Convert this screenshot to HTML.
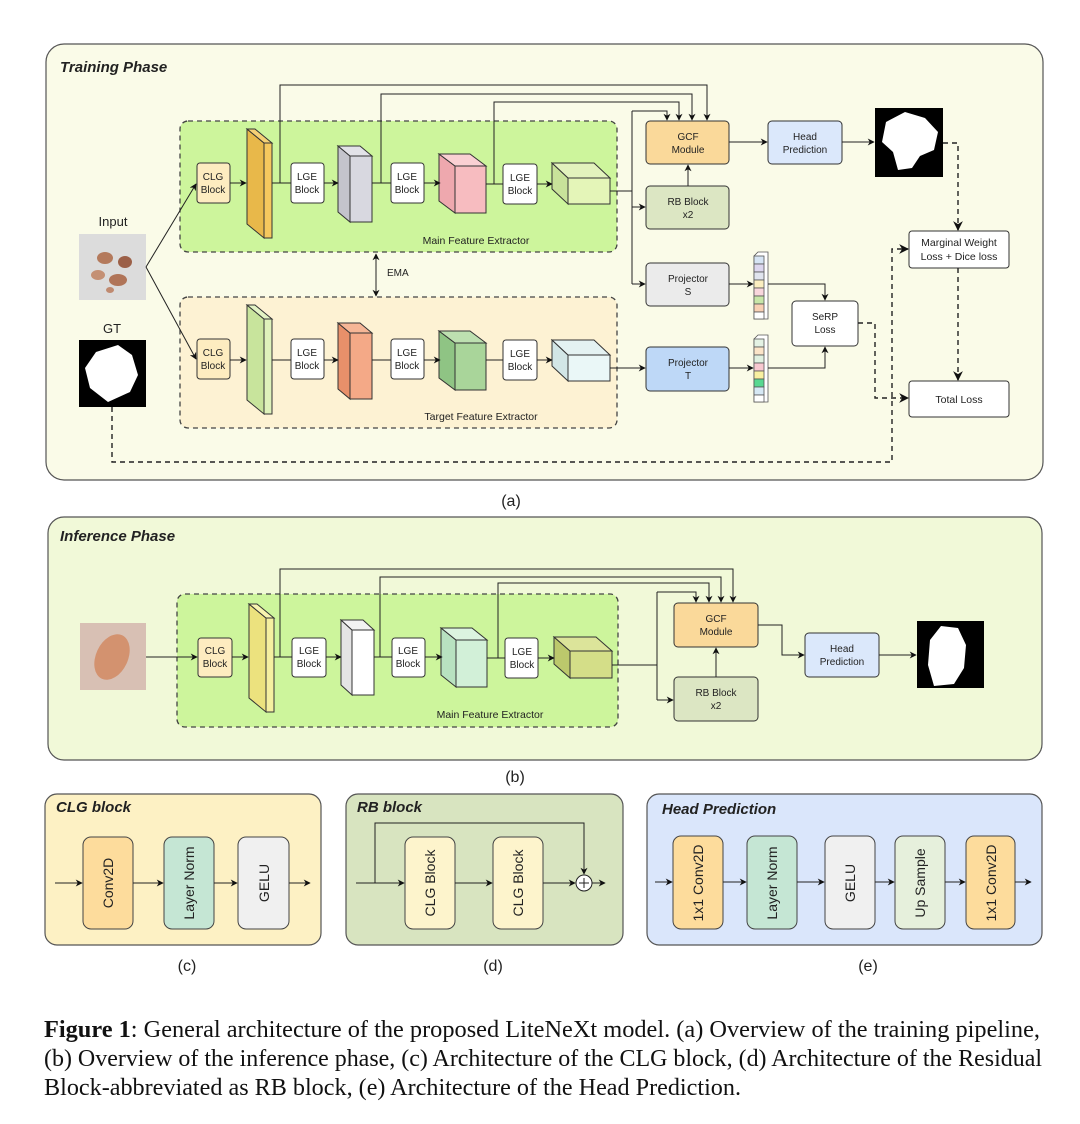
<!DOCTYPE html>
<html><head><meta charset="utf-8"><style>
html,body{margin:0;padding:0;background:#fff;}
svg{display:block;}
text{font-family:"Liberation Sans",sans-serif;fill:#222;}
.b{font-size:10px;text-anchor:middle;}
.t{font-size:15px;font-weight:bold;font-style:italic;}
.cap{font-family:"Liberation Serif",serif;font-size:24px;fill:#111;}
</style></head><body>
<svg width="1080" height="1124" viewBox="0 0 1080 1124" xmlns="http://www.w3.org/2000/svg">
<defs>
<marker id="a" viewBox="0 0 10 10" refX="9" refY="5" markerWidth="7" markerHeight="7" orient="auto-start-reverse"><path d="M0,0 L10,5 L0,10 L3,5 z" fill="#111"/></marker>
</defs>

<!-- PANEL A -->
<rect x="46" y="44" width="997" height="436" rx="18" fill="#fafbe8" stroke="#555" stroke-width="1.2"/>
<text x="60" y="72" class="t">Training Phase</text>
<rect x="180" y="121" width="437" height="131" rx="8" fill="#cdf59c" stroke="#444" stroke-width="1.3" stroke-dasharray="5,4"/>
<text x="476" y="244" font-size="10.5" text-anchor="middle">Main Feature Extractor</text>
<rect x="180" y="297" width="437" height="131" rx="8" fill="#fdf2d3" stroke="#444" stroke-width="1.3" stroke-dasharray="5,4"/>
<text x="481" y="420" font-size="10.5" text-anchor="middle">Target Feature Extractor</text>

<!-- input -->
<text x="113" y="226" font-size="13" text-anchor="middle">Input</text>
<rect x="79" y="234" width="67" height="66" fill="#dcdcdc"/>
<ellipse cx="105" cy="258" rx="8" ry="6" fill="#b47a5c"/><ellipse cx="125" cy="262" rx="7" ry="6" fill="#9c6048"/><ellipse cx="98" cy="275" rx="7" ry="5" fill="#c49074"/><ellipse cx="118" cy="280" rx="9" ry="6" fill="#b07458"/><ellipse cx="110" cy="290" rx="4" ry="3" fill="#c08a70"/>
<text x="112" y="333" font-size="13" text-anchor="middle">GT</text>
<rect x="79" y="340" width="67" height="67" fill="#000"/>
<path d="M96,352 L118,345 L132,355 L138,375 L130,392 L108,402 L90,388 L85,368 z" fill="#fff"/>

<line x1="146" y1="267" x2="196" y2="184" stroke="#222" marker-end="url(#a)"/>
<line x1="146" y1="267" x2="196" y2="359" stroke="#222" marker-end="url(#a)"/>

<!-- main row -->
<g stroke="#333" stroke-width="1">
<rect x="197" y="163" width="33" height="40" rx="3" fill="#fdecc0"/>
<polygon points="247,129 264,143 264,238 247,224" fill="#e8b84a"/><polygon points="247,129 255,129 272,143 264,143" fill="#f5d075"/><rect x="264" y="143" width="8" height="95" fill="#f5c85e"/>
<rect x="291" y="163" width="33" height="40" rx="3" fill="#fff"/>
<polygon points="338,146 350,156 350,222 338,212" fill="#c4c4cc"/><polygon points="338,146 360,146 372,156 350,156" fill="#e2e2e8"/><rect x="350" y="156" width="22" height="66" fill="#d8d8e0"/>
<rect x="391" y="163" width="33" height="40" rx="3" fill="#fff"/>
<polygon points="439,154 455,166 455,213 439,201" fill="#eea8ae"/><polygon points="439,154 470,154 486,166 455,166" fill="#fad0d3"/><rect x="455" y="166" width="31" height="47" fill="#f7bcc0"/>
<rect x="503" y="164" width="34" height="40" rx="3" fill="#fff"/>
<polygon points="552,163 568,178 568,204 552,189" fill="#c8e29a"/><polygon points="552,163 594,163 610,178 568,178" fill="#e2f2bd"/><rect x="568" y="178" width="42" height="26" fill="#e4f5b8"/>
</g>
<g class="b"><text x="213" y="180">CLG</text><text x="213" y="193">Block</text>
<text x="307" y="180">LGE</text><text x="307" y="193">Block</text>
<text x="407" y="180">LGE</text><text x="407" y="193">Block</text>
<text x="520" y="181">LGE</text><text x="520" y="194">Block</text></g>
<g stroke="#222" fill="none">
<line x1="230" y1="183" x2="246" y2="183" marker-end="url(#a)"/>
<line x1="272" y1="183" x2="291" y2="183"/>
<line x1="324" y1="183" x2="338" y2="183" marker-end="url(#a)"/>
<line x1="372" y1="183" x2="391" y2="183"/>
<line x1="424" y1="183" x2="440" y2="183" marker-end="url(#a)"/>
<line x1="486" y1="184" x2="503" y2="184"/>
<line x1="537" y1="184" x2="552" y2="184" marker-end="url(#a)"/>
<polyline points="280,183 280,85 707,85 707,120" marker-end="url(#a)"/>
<polyline points="381,183 381,94 692,94 692,120" marker-end="url(#a)"/>
<polyline points="494,184 494,102 679,102 679,120" marker-end="url(#a)"/>
<polyline points="610,191 632,191"/>
<polyline points="632,111 667,111 667,120" marker-end="url(#a)"/>
<line x1="632" y1="111" x2="632" y2="284"/>
<line x1="632" y1="207" x2="645" y2="207" marker-end="url(#a)"/>
<line x1="632" y1="284" x2="645" y2="284" marker-end="url(#a)"/>
<line x1="376" y1="254" x2="376" y2="296" marker-start="url(#a)" marker-end="url(#a)"/>
</g>
<text x="387" y="276" font-size="10">EMA</text>

<!-- target row -->
<g stroke="#333" stroke-width="1">
<rect x="197" y="339" width="33" height="40" rx="3" fill="#fdecc0"/>
<polygon points="247,305 264,319 264,414 247,400" fill="#c8e49c"/><polygon points="247,305 255,305 272,319 264,319" fill="#e2f3c4"/><rect x="264" y="319" width="8" height="95" fill="#dff2bb"/>
<rect x="291" y="339" width="33" height="40" rx="3" fill="#fff"/>
<polygon points="338,323 350,333 350,399 338,389" fill="#e8906a"/><polygon points="338,323 360,323 372,333 350,333" fill="#f6b696"/><rect x="350" y="333" width="22" height="66" fill="#f4a987"/>
<rect x="391" y="339" width="33" height="40" rx="3" fill="#fff"/>
<polygon points="439,331 455,343 455,390 439,378" fill="#8fc484"/><polygon points="439,331 470,331 486,343 455,343" fill="#bde0b0"/><rect x="455" y="343" width="31" height="47" fill="#a9d59a"/>
<rect x="503" y="340" width="34" height="40" rx="3" fill="#fff"/>
<polygon points="552,340 568,355 568,381 552,366" fill="#d2e6e6"/><polygon points="552,340 594,340 610,355 568,355" fill="#e4f2f2"/><rect x="568" y="355" width="42" height="26" fill="#eaf7f7"/>
</g>
<g class="b"><text x="213" y="356">CLG</text><text x="213" y="369">Block</text>
<text x="307" y="356">LGE</text><text x="307" y="369">Block</text>
<text x="407" y="356">LGE</text><text x="407" y="369">Block</text>
<text x="520" y="357">LGE</text><text x="520" y="370">Block</text></g>
<g stroke="#222" fill="none">
<line x1="230" y1="360" x2="246" y2="360" marker-end="url(#a)"/>
<line x1="272" y1="360" x2="291" y2="360"/>
<line x1="324" y1="360" x2="338" y2="360" marker-end="url(#a)"/>
<line x1="372" y1="360" x2="391" y2="360"/>
<line x1="424" y1="360" x2="440" y2="360" marker-end="url(#a)"/>
<line x1="486" y1="360" x2="503" y2="360"/>
<line x1="537" y1="360" x2="552" y2="360" marker-end="url(#a)"/>
<line x1="610" y1="368" x2="645" y2="368" marker-end="url(#a)"/>
</g>

<!-- right side of A -->
<g stroke="#333" stroke-width="1">
<rect x="646" y="121" width="83" height="43" rx="4" fill="#fad99a"/>
<rect x="768" y="121" width="74" height="43" rx="4" fill="#dbe8fb"/>
<rect x="646" y="186" width="83" height="43" rx="4" fill="#dce6c3"/>
<rect x="646" y="263" width="83" height="43" rx="4" fill="#ebebeb"/>
<rect x="646" y="347" width="83" height="44" rx="4" fill="#bed8f7"/>
<rect x="792" y="301" width="66" height="45" rx="4" fill="#fff"/>
<rect x="909" y="231" width="100" height="37" rx="3" fill="#fff"/>
<rect x="909" y="381" width="100" height="36" rx="3" fill="#fff"/>
</g>
<rect x="875" y="108" width="68" height="69" fill="#000"/>
<path d="M886,122 L905,112 L925,118 L938,132 L934,150 L920,156 L912,168 L898,170 L893,152 L882,142 z" fill="#fff"/>
<g class="b"><text x="688" y="140">GCF</text><text x="688" y="153">Module</text>
<text x="805" y="140">Head</text><text x="805" y="153">Prediction</text>
<text x="688" y="205">RB Block</text><text x="688" y="218">x2</text>
<text x="688" y="282">Projector</text><text x="688" y="295">S</text>
<text x="688" y="366">Projector</text><text x="688" y="379">T</text>
<text x="825" y="320">SeRP</text><text x="825" y="333">Loss</text>
<text x="959" y="246" font-size="10.5">Marginal Weight</text><text x="959" y="260" font-size="10.5">Loss + Dice loss</text>
<text x="959" y="403" font-size="10.5">Total Loss</text></g>
<g stroke="#555" stroke-width="0.8">
<polygon points="754,256 758,252 768,252 768,319 764,319 754,319" fill="#fff"/>
<rect x="754" y="256" width="10" height="8" fill="#d6e4f4"/><rect x="754" y="264" width="10" height="8" fill="#dcd6ee"/><rect x="754" y="272" width="10" height="8" fill="#e0e4ee"/><rect x="754" y="280" width="10" height="8" fill="#fbeec0"/><rect x="754" y="288" width="10" height="8" fill="#f8d6dc"/><rect x="754" y="296" width="10" height="8" fill="#c8e6a8"/><rect x="754" y="304" width="10" height="8" fill="#f8d0b4"/><rect x="754" y="312" width="10" height="7" fill="#fff"/>
<polygon points="754,339 758,335 768,335 768,402 764,402 754,402" fill="#fff"/>
<rect x="754" y="339" width="10" height="8" fill="#e4f2e4"/><rect x="754" y="347" width="10" height="8" fill="#fbe4c8"/><rect x="754" y="355" width="10" height="8" fill="#e0f0e0"/><rect x="754" y="363" width="10" height="8" fill="#f8c8d0"/><rect x="754" y="371" width="10" height="8" fill="#f8f0a0"/><rect x="754" y="379" width="10" height="8" fill="#58d890"/><rect x="754" y="387" width="10" height="8" fill="#d6e8f4"/><rect x="754" y="395" width="10" height="7" fill="#fff"/>
</g>
<g stroke="#222" fill="none">
<line x1="729" y1="142" x2="767" y2="142" marker-end="url(#a)"/>
<line x1="842" y1="142" x2="874" y2="142" marker-end="url(#a)"/>
<line x1="688" y1="186" x2="688" y2="165" marker-end="url(#a)"/>
<line x1="729" y1="284" x2="753" y2="284" marker-end="url(#a)"/>
<line x1="729" y1="368" x2="753" y2="368" marker-end="url(#a)"/>
<polyline points="768,284 825,284 825,300" marker-end="url(#a)"/>
<polyline points="768,368 825,368 825,347" marker-end="url(#a)"/>
</g>
<g stroke="#222" fill="none" stroke-width="1.4" stroke-dasharray="5,4">
<polyline points="943,143 958,143 958,230" marker-end="url(#a)"/>
<polyline points="958,268 958,380" marker-end="url(#a)"/>
<polyline points="858,323 875,323 875,398 908,398" marker-end="url(#a)"/>
<polyline points="112,407 112,462 892,462 892,249 908,249" marker-end="url(#a)"/>
</g>
<text x="511" y="506" font-size="16" text-anchor="middle">(a)</text>

<!-- PANEL B -->
<rect x="48" y="517" width="994" height="243" rx="16" fill="#f1f9d8" stroke="#555" stroke-width="1.2"/>
<text x="60" y="541" class="t">Inference Phase</text>
<rect x="177" y="594" width="441" height="133" rx="8" fill="#cdf59c" stroke="#444" stroke-width="1.3" stroke-dasharray="5,4"/>
<text x="490" y="718" font-size="10.5" text-anchor="middle">Main Feature Extractor</text>
<rect x="80" y="623" width="66" height="67" fill="#d8c0b4"/>
<ellipse cx="112" cy="657" rx="16" ry="24" fill="#d2865e" opacity="0.8" transform="rotate(25 112 657)"/>
<g stroke="#333" stroke-width="1">
<rect x="198" y="638" width="34" height="39" rx="3" fill="#fdecc0"/>
<polygon points="249,604 266,618 266,712 249,698" fill="#ece27e"/><polygon points="249,604 257,604 274,618 266,618" fill="#f8f4b0"/><rect x="266" y="618" width="8" height="94" fill="#f5f0a0"/>
<rect x="292" y="638" width="34" height="39" rx="3" fill="#fff"/>
<polygon points="341,620 352,630 352,695 341,685" fill="#e4e4e4"/><polygon points="341,620 363,620 374,630 352,630" fill="#f2f2f2"/><rect x="352" y="630" width="22" height="65" fill="#fff"/>
<rect x="392" y="638" width="33" height="39" rx="3" fill="#fff"/>
<polygon points="441,628 456,640 456,687 441,675" fill="#b8e2c0"/><polygon points="441,628 472,628 487,640 456,640" fill="#dcf4e0"/><rect x="456" y="640" width="31" height="47" fill="#d2f0d8"/>
<rect x="505" y="638" width="33" height="40" rx="3" fill="#fff"/>
<polygon points="554,637 570,651 570,678 554,664" fill="#bcc86c"/><polygon points="554,637 596,637 612,651 570,651" fill="#dce49a"/><rect x="570" y="651" width="42" height="27" fill="#d4de88"/>
<rect x="674" y="603" width="84" height="44" rx="4" fill="#fad99a"/>
<rect x="674" y="677" width="84" height="44" rx="4" fill="#dce6c3"/>
<rect x="805" y="633" width="74" height="44" rx="4" fill="#dbe8fb"/>
</g>
<rect x="917" y="621" width="67" height="67" fill="#000"/>
<path d="M941,626 L958,628 L966,645 L964,668 L954,684 L934,686 L928,665 L930,640 z" fill="#fff"/>
<g class="b"><text x="215" y="654">CLG</text><text x="215" y="667">Block</text>
<text x="309" y="654">LGE</text><text x="309" y="667">Block</text>
<text x="408" y="654">LGE</text><text x="408" y="667">Block</text>
<text x="522" y="655">LGE</text><text x="522" y="668">Block</text>
<text x="716" y="622">GCF</text><text x="716" y="635">Module</text>
<text x="716" y="696">RB Block</text><text x="716" y="709">x2</text>
<text x="842" y="652">Head</text><text x="842" y="665">Prediction</text></g>
<g stroke="#222" fill="none">
<line x1="146" y1="657" x2="197" y2="657" marker-end="url(#a)"/>
<line x1="232" y1="657" x2="248" y2="657" marker-end="url(#a)"/>
<line x1="274" y1="657" x2="292" y2="657"/>
<line x1="326" y1="657" x2="341" y2="657" marker-end="url(#a)"/>
<line x1="374" y1="657" x2="392" y2="657"/>
<line x1="425" y1="657" x2="442" y2="657" marker-end="url(#a)"/>
<line x1="487" y1="658" x2="505" y2="658"/>
<line x1="538" y1="658" x2="554" y2="658" marker-end="url(#a)"/>
<polyline points="280,657 280,569 733,569 733,602" marker-end="url(#a)"/>
<polyline points="380,657 380,577 721,577 721,602" marker-end="url(#a)"/>
<polyline points="498,658 498,583 709,583 709,602" marker-end="url(#a)"/>
<polyline points="612,665 657,665"/>
<polyline points="657,592 696,592 696,602" marker-end="url(#a)"/>
<line x1="657" y1="592" x2="657" y2="700"/>
<line x1="657" y1="700" x2="673" y2="700" marker-end="url(#a)"/>
<line x1="716" y1="677" x2="716" y2="648" marker-end="url(#a)"/>
<polyline points="758,625 782,625 782,655 804,655" marker-end="url(#a)"/>
<line x1="879" y1="655" x2="916" y2="655" marker-end="url(#a)"/>
</g>
<text x="515" y="782" font-size="16" text-anchor="middle">(b)</text>

<!-- PANEL C -->
<rect x="45" y="794" width="276" height="151" rx="12" fill="#fdf1c4" stroke="#555" stroke-width="1.2"/>
<text x="56" y="812" class="t">CLG block</text>
<g stroke="#444"><rect x="83" y="837" width="50" height="92" rx="8" fill="#fddc9c"/>
<rect x="164" y="837" width="50" height="92" rx="8" fill="#c5e6d4"/>
<rect x="238" y="837" width="51" height="92" rx="8" fill="#f0f0f0"/></g>
<g font-size="14" text-anchor="middle"><text transform="translate(113 883) rotate(-90)">Conv2D</text>
<text transform="translate(194 883) rotate(-90)">Layer Norm</text>
<text transform="translate(269 883) rotate(-90)">GELU</text></g>
<g stroke="#222" fill="none">
<line x1="55" y1="883" x2="82" y2="883" marker-end="url(#a)"/>
<line x1="133" y1="883" x2="163" y2="883" marker-end="url(#a)"/>
<line x1="214" y1="883" x2="237" y2="883" marker-end="url(#a)"/>
<line x1="289" y1="883" x2="310" y2="883" marker-end="url(#a)"/>
</g>
<text x="187" y="971" font-size="16" text-anchor="middle">(c)</text>

<!-- PANEL D -->
<rect x="346" y="794" width="277" height="151" rx="12" fill="#d8e4c0" stroke="#555" stroke-width="1.2"/>
<text x="357" y="812" class="t">RB block</text>
<g stroke="#444"><rect x="405" y="837" width="50" height="92" rx="8" fill="#fdf4cc"/>
<rect x="493" y="837" width="50" height="92" rx="8" fill="#fdf4cc"/></g>
<g font-size="14" text-anchor="middle"><text transform="translate(435 883) rotate(-90)">CLG Block</text>
<text transform="translate(523 883) rotate(-90)">CLG Block</text></g>
<g stroke="#222" fill="none">
<line x1="356" y1="883" x2="404" y2="883" marker-end="url(#a)"/>
<line x1="455" y1="883" x2="492" y2="883" marker-end="url(#a)"/>
<line x1="543" y1="883" x2="575" y2="883" marker-end="url(#a)"/>
<polyline points="375,883 375,823 584,823 584,874" marker-end="url(#a)"/>
<line x1="592" y1="883" x2="605" y2="883" marker-end="url(#a)"/>
<circle cx="584" cy="883" r="8" fill="#fff"/>
<line x1="579" y1="883" x2="589" y2="883"/><line x1="584" y1="878" x2="584" y2="888"/>
</g>
<text x="493" y="971" font-size="16" text-anchor="middle">(d)</text>

<!-- PANEL E -->
<rect x="647" y="794" width="395" height="151" rx="12" fill="#dae6fb" stroke="#555" stroke-width="1.2"/>
<text x="662" y="814" class="t">Head Prediction</text>
<g stroke="#444"><rect x="673" y="836" width="50" height="93" rx="8" fill="#fddc9c"/>
<rect x="747" y="836" width="50" height="93" rx="8" fill="#c5e6d4"/>
<rect x="825" y="836" width="50" height="93" rx="8" fill="#f0f0f0"/>
<rect x="895" y="836" width="50" height="93" rx="8" fill="#e6f0dc"/>
<rect x="966" y="836" width="49" height="93" rx="8" fill="#fddc9c"/></g>
<g font-size="14" text-anchor="middle"><text transform="translate(703 883) rotate(-90)">1x1 Conv2D</text>
<text transform="translate(777 883) rotate(-90)">Layer Norm</text>
<text transform="translate(855 883) rotate(-90)">GELU</text>
<text transform="translate(925 883) rotate(-90)">Up Sample</text>
<text transform="translate(996 883) rotate(-90)">1x1 Conv2D</text></g>
<g stroke="#222" fill="none">
<line x1="655" y1="882" x2="672" y2="882" marker-end="url(#a)"/>
<line x1="723" y1="882" x2="746" y2="882" marker-end="url(#a)"/>
<line x1="797" y1="882" x2="824" y2="882" marker-end="url(#a)"/>
<line x1="875" y1="882" x2="894" y2="882" marker-end="url(#a)"/>
<line x1="945" y1="882" x2="965" y2="882" marker-end="url(#a)"/>
<line x1="1015" y1="882" x2="1031" y2="882" marker-end="url(#a)"/>
</g>
<text x="868" y="971" font-size="16" text-anchor="middle">(e)</text>

<!-- caption -->
<text x="44" y="1037" class="cap" textLength="996" lengthAdjust="spacingAndGlyphs"><tspan font-weight="bold">Figure 1</tspan>: General architecture of the proposed LiteNeXt model. (a) Overview of the training pipeline,</text>
<text x="44" y="1066" class="cap" textLength="998" lengthAdjust="spacingAndGlyphs">(b) Overview of the inference phase, (c) Architecture of the CLG block, (d) Architecture of the Residual</text>
<text x="44" y="1095" class="cap" textLength="697" lengthAdjust="spacingAndGlyphs">Block-abbreviated as RB block, (e) Architecture of the Head Prediction.</text>
</svg>
</body></html>
